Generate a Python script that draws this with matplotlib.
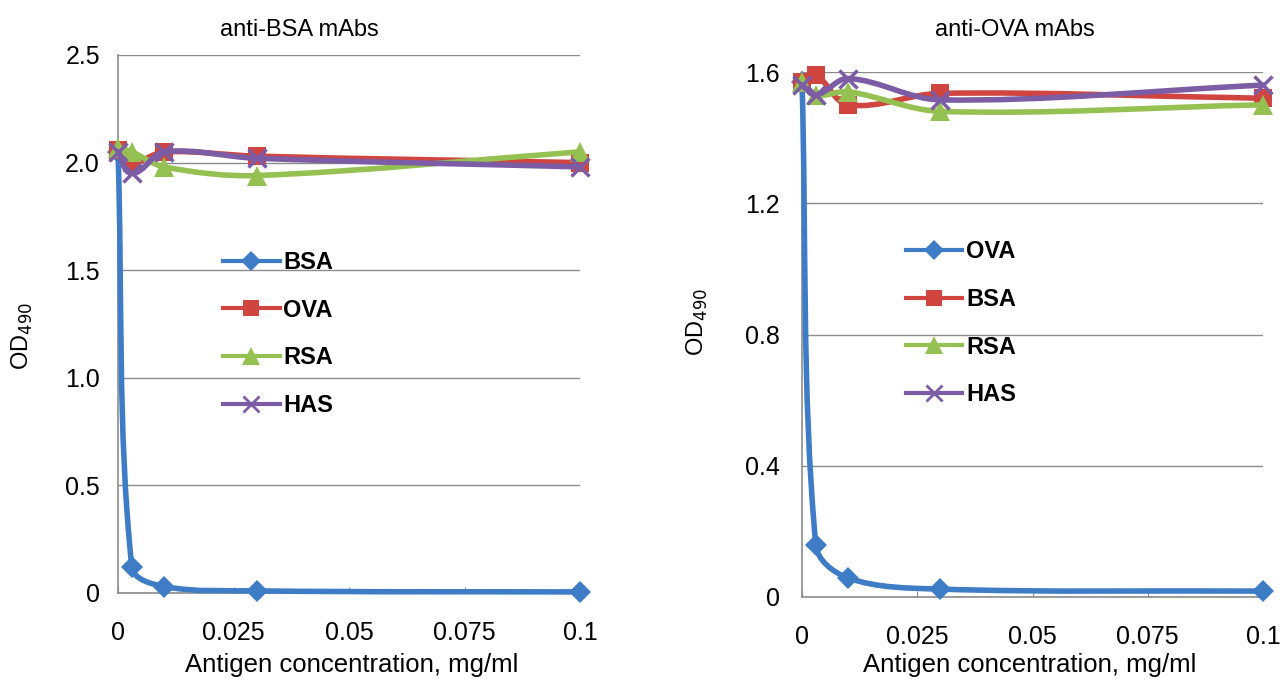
import numpy as np
import matplotlib
matplotlib.use("Agg")
import matplotlib.pyplot as plt
from matplotlib.path import Path
from matplotlib.patches import PathPatch
from matplotlib.lines import Line2D

plt.rcParams['font.family'] = ['Liberation Sans', 'DejaVu Sans']

# antigen concentrations, mg/ml
conc = [0.0, 0.003, 0.01, 0.03, 0.1]

# anti-BSA mAbs panel
bsa_labels = ["BSA", "OVA", "RSA", "HAS"]
bsa_panel = {
    "BSA": [2.05, 0.12, 0.03, 0.01, 0.005],
    "OVA": [2.06, 2.00, 2.05, 2.03, 2.00],
    "RSA": [2.07, 2.05, 1.98, 1.94, 2.05],
    "HAS": [2.05, 1.95, 2.05, 2.02, 1.98],
}

# anti-OVA mAbs panel
ova_labels = ["OVA", "BSA", "RSA", "HAS"]
ova_panel = {
    "OVA": [1.57, 0.158, 0.058, 0.024, 0.018],
    "BSA": [1.57, 1.59, 1.50, 1.535, 1.52],
    "RSA": [1.57, 1.53, 1.54, 1.48, 1.50],
    "HAS": [1.56, 1.53, 1.58, 1.515, 1.56],
}

blue = "#3f7cc6"
red = "#d0453f"
green = "#95c152"
purple = "#7d5ca6"
grid_c = "#8c8c8c"


def smooth_path(x, y, sx, sy):
    # Excel-like smoothed line: cubic bezier through the points, tangent
    # from the neighbours, handle length a third of the segment length
    p = np.column_stack([np.array(x) * sx, np.array(y) * sy])
    n = len(p)
    verts = [p[0]]
    codes = [Path.MOVETO]
    for i in range(n - 1):
        p0 = p[i - 1] if i > 0 else p[i]
        p1 = p[i]
        p2 = p[i + 1]
        p3 = p[i + 2] if i + 2 < n else p[i + 1]
        seg = np.linalg.norm(p2 - p1)
        t1 = (p2 - p0) / np.linalg.norm(p2 - p0)
        t2 = (p3 - p1) / np.linalg.norm(p3 - p1)
        c1 = p1 + t1 * seg / 3.0
        c2 = p2 - t2 * seg / 3.0
        verts += [c1, c2, p2]
        codes += [Path.CURVE4] * 3
    verts = np.array(verts)
    verts[:, 0] /= sx
    verts[:, 1] /= sy
    return Path(verts, codes)


styles = {
    0: dict(color=blue, marker="D", ms=11, mew=0),
    1: dict(color=red, marker="s", ms=13, mew=0),
    2: dict(color=green, marker="^", ms=14, mew=0),
    3: dict(color=purple, marker="x", ms=13, mew=2.5),
}

fig = plt.figure(figsize=(12.87, 6.79), dpi=100)

panels = [
    dict(rect=[118 / 1287, 1 - 593 / 679, 462 / 1287, 538 / 679],
         data=bsa_panel, labels=bsa_labels, ylim=2.5,
         yticks=[0, 0.5, 1.0, 1.5, 2.0, 2.5],
         yticklabels=["0", "0.5", "1.0", "1.5", "2.0", "2.5"],
         title="anti-BSA mAbs", title_xy=(299, 30),
         xlabel_xy=(352, 665), ylabel_xy=(22, 336),
         leg=(0.227, 0.636), ypad=13),
    dict(rect=[802 / 1287, 1 - 597 / 679, 461 / 1287, 525 / 679],
         data=ova_panel, labels=ova_labels, ylim=1.6,
         yticks=[0, 0.4, 0.8, 1.2, 1.6],
         yticklabels=["0", "0.4", "0.8", "1.2", "1.6"],
         title="anti-OVA mAbs", title_xy=(1015, 30),
         xlabel_xy=(1030, 665), ylabel_xy=(697, 322),
         leg=(0.225, 0.68), ypad=16),
]

for pan in panels:
    ax = fig.add_axes(pan["rect"])
    ax.set_xlim(0, 0.1)
    ax.set_ylim(0, pan["ylim"])
    w_px = pan["rect"][2] * 1287
    h_px = pan["rect"][3] * 679
    sx = w_px / 0.1
    sy = h_px / pan["ylim"]

    handles = []
    for k, name in enumerate(pan["labels"]):
        st = styles[k]
        vals = pan["data"][name]
        path = smooth_path(conc, vals, sx, sy)
        ax.add_patch(PathPatch(path, facecolor="none", edgecolor=st["color"],
                               lw=4.0, zorder=3 + k, capstyle="round",
                               joinstyle="round", clip_on=False))
        ax.plot(conc, vals, linestyle="none", marker=st["marker"],
                color=st["color"], ms=st["ms"], mew=st["mew"],
                zorder=3 + k, clip_on=False)
        handles.append(Line2D([], [], color=st["color"], lw=3.0,
                              marker=st["marker"], ms=st["ms"] - 1,
                              mew=st["mew"] - 0.5 if st["mew"] else 0,
                              label=name))

    ax.legend(handles=handles, loc="upper left", bbox_to_anchor=pan["leg"],
              frameon=False, prop=dict(weight="bold", size=17),
              handlelength=2.4, handletextpad=0.15, labelspacing=1.05,
              borderpad=0, borderaxespad=0)

    ax.set_yticks(pan["yticks"])
    ax.set_yticklabels(pan["yticklabels"])
    ax.set_xticks([0, 0.025, 0.05, 0.075, 0.1])
    ax.set_xticklabels(["0", "0.025", "0.05", "0.075", "0.1"])
    ax.tick_params(axis="y", length=0, labelsize=18, pad=pan["ypad"])
    ax.tick_params(axis="x", length=4, direction="in", color=grid_c,
                   labelsize=18, pad=20)
    ax.grid(axis="y", color=grid_c, lw=1.0)
    ax.set_axisbelow(True)
    for s in ["top", "right"]:
        ax.spines[s].set_visible(False)
    for s in ["left", "bottom"]:
        ax.spines[s].set_color(grid_c)
        ax.spines[s].set_linewidth(1.2)

    fig.text(pan["title_xy"][0] / 1287, 1 - pan["title_xy"][1] / 679,
             pan["title"], ha="center", va="center", fontsize=17)
    fig.text(pan["xlabel_xy"][0] / 1287, 1 - pan["xlabel_xy"][1] / 679,
             "Antigen concentration, mg/ml", ha="center", va="center",
             fontsize=18.5)
    fig.text(pan["ylabel_xy"][0] / 1287, 1 - pan["ylabel_xy"][1] / 679,
             "OD$_{490}$", ha="center", va="center", fontsize=17,
             rotation=90)

fig.savefig("out.png", dpi=100, facecolor="white")
